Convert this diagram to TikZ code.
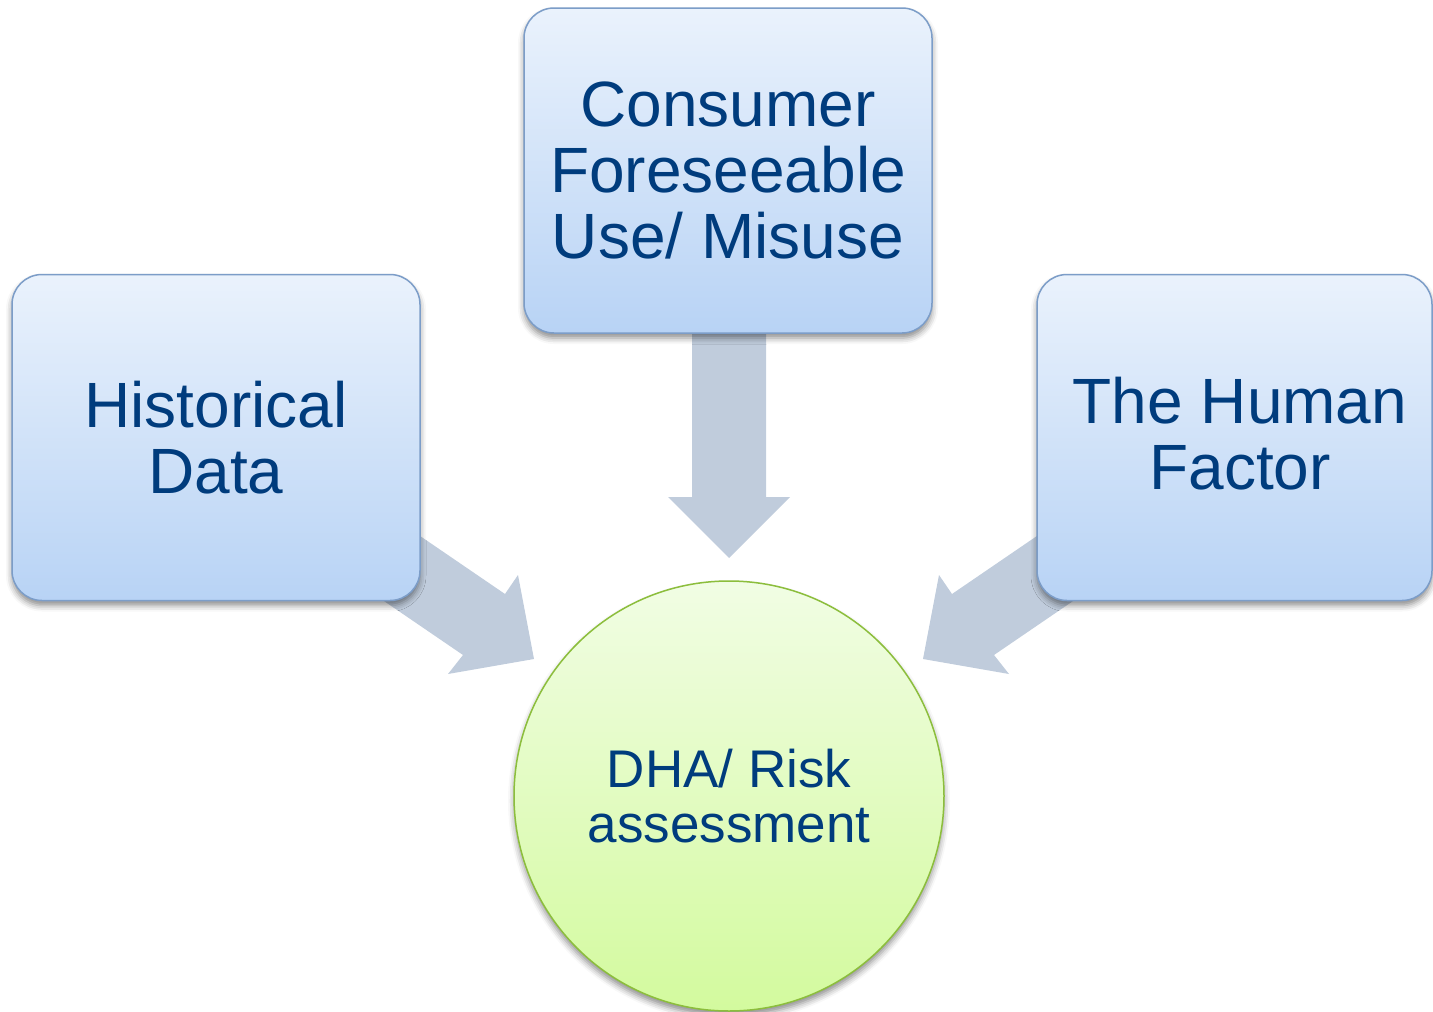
\documentclass[tikz,border=0pt]{standalone}
\usepackage{fontspec}
\setmainfont{Liberation Sans}
\usetikzlibrary{shadows.blur}
\definecolor{boxtop}{HTML}{EAF2FC}
\definecolor{boxbot}{HTML}{B8D3F5}
\definecolor{boxline}{HTML}{7C9DC8}
\definecolor{circtop}{HTML}{F1FDE4}
\definecolor{circbot}{HTML}{D3FA9E}
\definecolor{circline}{HTML}{8CBE3C}
\definecolor{arrowfill}{HTML}{C0CCDC}
\definecolor{txt}{HTML}{003C7D}
\tikzset{
  srcbox/.style={rectangle, rounded corners=30pt, draw=boxline, line width=1.5pt,
    top color=boxtop, bottom color=boxbot, text=txt, align=center,
    font=\fontsize{64}{66}\selectfont,
    blur shadow={shadow xshift=0pt, shadow yshift=-5pt, shadow blur radius=6pt, shadow opacity=45}},
  goal/.style={circle, draw=circline, line width=1.5pt, minimum size=430pt, inner sep=0pt,
    top color=circtop, bottom color=circbot, text=txt, align=center,
    font=\fontsize{53}{55}\selectfont,
    blur shadow={shadow xshift=0pt, shadow yshift=-5pt, shadow blur radius=6pt, shadow opacity=45}},
  fatarrow/.style={fill=arrowfill, draw=none},
  lbl/.style={text=txt, align=center, font=\fontsize{64}{66}\selectfont}
}
\begin{document}
\begin{tikzpicture}[x=1pt,y=-1pt]
\useasboundingbox (0,0) rectangle (1433,1012);
% arrows (behind boxes)
\fill[fatarrow] (692,300) -- (692,497) -- (668,497) -- (729,558) -- (790,497) -- (766,497) -- (766,300) -- cycle;
\fill[fatarrow] (380,508.6) -- (505,594) -- (518,575) -- (534,659) -- (448,674) -- (463,655) -- (340,571) -- cycle;
\fill[fatarrow] (1077,508.6) -- (952,594) -- (939,575) -- (923,659) -- (1009,674) -- (994,655) -- (1117,571) -- cycle;
% boxes
\node[srcbox, minimum width=408pt, minimum height=326pt] (hist) at (216,437.5) {Historical\\Data};
\node[srcbox, minimum width=408pt, minimum height=325pt] (cons) at (728,170.5) {Consumer\\Foreseeable\\Use/ Misuse};
\node[srcbox, minimum width=395pt, minimum height=326pt] (human) at (1234.5,437.5) {};
\node[lbl] (humantxt) at (1240,434) {The Human\\Factor};
% circle
\node[goal] (dha) at (729,796) {DHA/ Risk\\assessment};
\end{tikzpicture}
\end{document}
